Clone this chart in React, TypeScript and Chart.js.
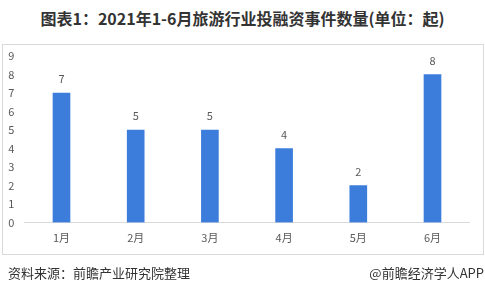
import React, { useEffect, useRef } from "react";
import { Chart, registerables } from "chart.js";

Chart.register(...registerables);

const categories = ["1月", "2月", "3月", "4月", "5月", "6月"];
const values = [7, 5, 5, 4, 2, 8];
const yTicks = [0, 1, 2, 3, 4, 5, 6, 7, 8, 9];
const titleText = "图表1：2021年1-6月旅游行业投融资事件数量(单位：起)";
const sourceText = "资料来源：前瞻产业研究院整理";
const brandText = "@前瞻经济学人APP";

const FONT = "'Noto Sans CJK SC', 'Noto Sans', sans-serif";

const valueLabels = {
  id: "valueLabels",
  afterDatasetsDraw(chart: any) {
    const { ctx } = chart;
    const meta = chart.getDatasetMeta(0);
    ctx.save();
    ctx.fillStyle = "#595959";
    ctx.font = `11px ${FONT}`;
    ctx.textAlign = "center";
    ctx.textBaseline = "middle";
    meta.data.forEach((bar: any, i: number) => {
      ctx.fillText(String(values[i]), bar.x, bar.y - 14);
    });
    ctx.restore();
  },
};

export default function App() {
  const ref = useRef<HTMLCanvasElement | null>(null);
  useEffect(() => {
    if (!ref.current) return;
    const chart = new Chart(ref.current, {
      type: "bar",
      data: {
        labels: categories,
        datasets: [
          {
            data: values,
            backgroundColor: "#3c7ddc",
            barThickness: 17,
          },
        ],
      },
      options: {
        animation: false,
        responsive: false,
        maintainAspectRatio: false,
        layout: { padding: { top: 56, right: 15.4, bottom: 41.5, left: 0 } },
        plugins: { legend: { display: false }, tooltip: { enabled: false } },
        scales: {
          x: {
            grid: { display: false, drawTicks: false },
            border: { display: true, color: "#d9d9d9", width: 1 },
            ticks: { color: "#595959", font: { family: FONT, size: 11 }, padding: 9 },
            afterFit(scale: any) {
              scale.height = 30;
            },
          },
          y: {
            min: 0,
            max: 9,
            grid: { display: false, drawTicks: false },
            border: { display: false },
            afterBuildTicks(scale: any) {
              scale.ticks = yTicks.map((v) => ({ value: v }));
            },
            ticks: { color: "#595959", font: { family: FONT, size: 11 }, padding: 10 },
            afterFit(scale: any) {
              scale.width = 24.4;
            },
          },
        },
      },
      plugins: [valueLabels],
    });
    return () => chart.destroy();
  }, []);

  return (
    <div
      style={{
        position: "fixed",
        left: 0,
        top: 0,
        width: 485,
        height: 294,
        background: "#ffffff",
        fontFamily: FONT,
        overflow: "hidden",
      }}
    >
      <div
        style={{
          position: "absolute",
          left: 0,
          top: 7,
          width: 485,
          textAlign: "center",
          fontSize: 16,
          fontWeight: 700,
          color: "#333333",
          lineHeight: "22px",
          whiteSpace: "nowrap",
        }}
      >
        {titleText}
      </div>
      <div
        style={{
          position: "absolute",
          left: 2,
          top: 44,
          width: 480,
          height: 209,
          border: "1px solid #d9d9d9",
        }}
      />
      <canvas
        ref={ref}
        width={485}
        height={294}
        style={{ position: "absolute", left: 0, top: 0, width: 485, height: 294 }}
      />
      <div
        style={{
          position: "absolute",
          left: 8,
          top: 264,
          fontSize: 13,
          color: "#333333",
          lineHeight: "18px",
          whiteSpace: "nowrap",
        }}
      >
        {sourceText}
      </div>
      <div
        style={{
          position: "absolute",
          right: 1,
          top: 264,
          fontSize: 13,
          color: "#333333",
          lineHeight: "18px",
          whiteSpace: "nowrap",
        }}
      >
        {brandText}
      </div>
    </div>
  );
}
